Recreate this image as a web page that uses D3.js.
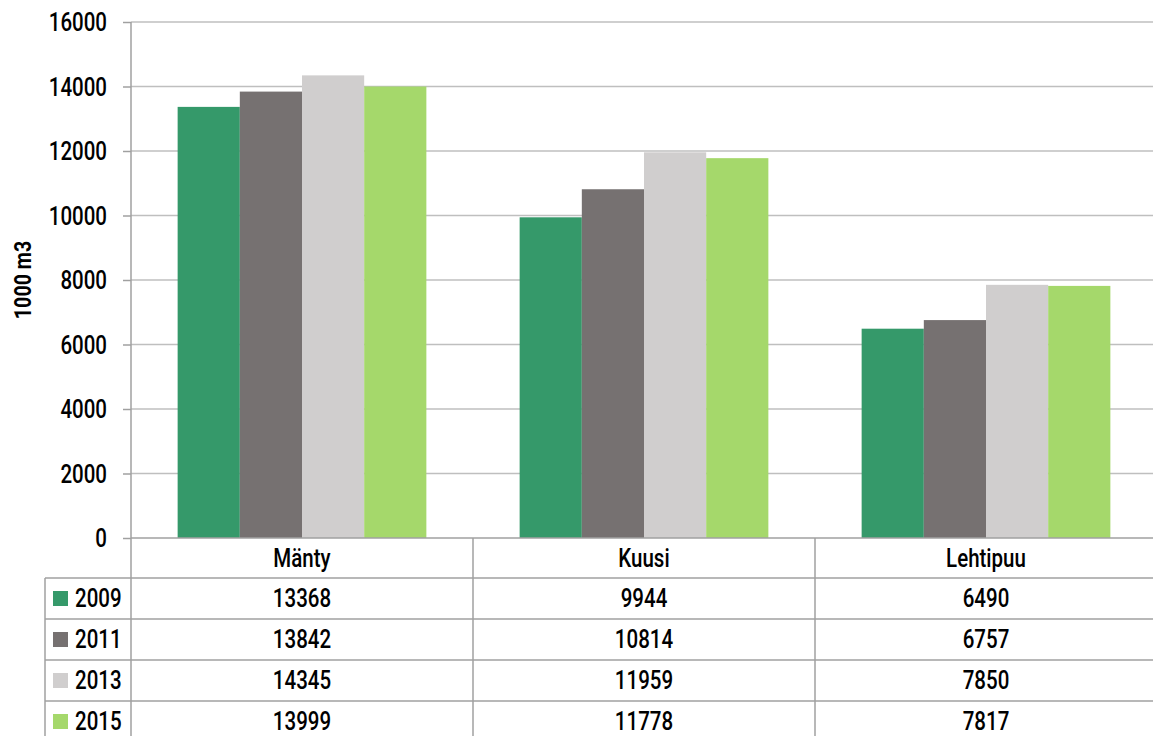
<!DOCTYPE html>
<html>
<head>
<meta charset="utf-8">
<script src="https://cdn.jsdelivr.net/npm/d3@7"></script>
<style>
body { margin: 0; background: #fff; }
svg text { font-family: "Roboto", sans-serif; fill: #000; }
</style>
</head>
<body>
<div id="chart"></div>
<script>
// data
var categories = ["Mänty", "Kuusi", "Lehtipuu"];
var years = ["2009", "2011", "2013", "2015"];
var v2009 = [13368, 9944, 6490];
var v2011 = [13842, 10814, 6757];
var v2013 = [14345, 11959, 7850];
var v2015 = [13999, 11778, 7817];
var yTicks = [0, 2000, 4000, 6000, 8000, 10000, 12000, 14000, 16000];
var colors = ["#35996a", "#767171", "#d0cece", "#a5d86b"];

var series = [v2009, v2011, v2013, v2015];

var w = 1153, h = 736;
var plotLeft = 131, plotRight = 1157, plotTop = 22, plotBottom = 538;
var rowH = 41, headH = 40, tableLeft = 45;
var fontSize = 25, fontW = 500, sx = 0.82; // narrow look like the original DIN font

// place a narrowed text at (x, y)
function place(sel, x, y) {
  sel.attr("transform", function(d, i){
    var px = typeof x === "function" ? x(d, i) : x;
    var py = typeof y === "function" ? y(d, i) : y;
    return "translate(" + px + "," + py + ") scale(" + sx + ",1)";
  });
}

var svg = d3.select("#chart").append("svg")
  .attr("width", w).attr("height", h);

var xScale = d3.scaleBand().domain(categories).range([plotLeft, plotRight]);
var xInner = d3.scaleBand().domain(years)
  .range([0, xScale.bandwidth()]).paddingOuter(0.75).paddingInner(0);
var yScale = d3.scaleLinear().domain([0, 16000]).range([plotBottom, plotTop]);

// gridlines
svg.append("g").selectAll("line")
  .data(yTicks.slice(1))
  .enter().append("line")
  .attr("x1", plotLeft).attr("x2", plotRight)
  .attr("y1", function(d){ return yScale(d); })
  .attr("y2", function(d){ return yScale(d); })
  .attr("stroke", "#bfbfbf").attr("stroke-width", 1.5);

// bars
var groups = svg.append("g").selectAll("g")
  .data(series).enter().append("g")
  .attr("fill", function(d, i){ return colors[i]; });

groups.selectAll("rect")
  .data(function(d, i){
    return d.map(function(v, j){ return { year: years[i], cat: categories[j], value: v }; });
  })
  .enter().append("rect")
  .attr("x", function(d){ return xScale(d.cat) + xInner(d.year); })
  .attr("width", xInner.bandwidth())
  .attr("y", function(d){ return yScale(d.value); })
  .attr("height", function(d){ return yScale(0) - yScale(d.value); });

// y axis
var yAxis = d3.axisLeft(yScale).tickValues(yTicks).tickFormat(d3.format("d"))
  .tickSize(8).tickPadding(0);
var ya = svg.append("g").attr("transform", "translate(" + plotLeft + ",0)").call(yAxis);
ya.select(".domain").remove();
ya.attr("font-family", null).attr("font-size", null);
ya.selectAll(".tick line").attr("stroke", "#a0a0a0").attr("stroke-width", 1.5);
ya.selectAll(".tick text").attr("font-size", fontSize).attr("font-weight", fontW)
  .attr("x", 0).attr("dy", "0.35em")
  .attr("transform", "translate(-24,0) scale(" + sx + ",1)");

svg.append("line")
  .attr("x1", plotLeft).attr("x2", plotLeft).attr("y1", plotTop).attr("y2", h)
  .attr("stroke", "#a0a0a0").attr("stroke-width", 1.5);

svg.append("text")
  .attr("transform", "translate(31," + ((plotTop + plotBottom) / 2) + ") rotate(-90) scale(" + sx + ",1)")
  .attr("text-anchor", "middle")
  .attr("font-size", 24).attr("font-weight", "bold")
  .text("1000 m3");

// data table
var tableG = svg.append("g");
var lineColor = "#a0a0a0";

tableG.append("line")
  .attr("x1", plotLeft).attr("x2", plotRight).attr("y1", plotBottom).attr("y2", plotBottom)
  .attr("stroke", lineColor).attr("stroke-width", 1.5);
tableG.selectAll("line.hrow")
  .data(d3.range(years.length + 1))
  .enter().append("line").attr("class", "hrow")
  .attr("x1", tableLeft).attr("x2", plotRight)
  .attr("y1", function(i){ return plotBottom + headH + i * rowH; })
  .attr("y2", function(i){ return plotBottom + headH + i * rowH; })
  .attr("stroke", lineColor).attr("stroke-width", 1.5);

tableG.selectAll("line.vcol")
  .data(categories.slice(1))
  .enter().append("line").attr("class", "vcol")
  .attr("x1", function(d){ return xScale(d); })
  .attr("x2", function(d){ return xScale(d); })
  .attr("y1", plotBottom).attr("y2", h)
  .attr("stroke", lineColor).attr("stroke-width", 1.5);
tableG.append("line")
  .attr("x1", tableLeft).attr("x2", tableLeft)
  .attr("y1", plotBottom + headH).attr("y2", h)
  .attr("stroke", lineColor).attr("stroke-width", 1.5);

// header labels
tableG.selectAll("text.head")
  .data(categories).enter().append("text").attr("class", "head")
  .attr("dy", "0.35em")
  .attr("text-anchor", "middle")
  .attr("font-size", fontSize).attr("font-weight", fontW)
  .text(function(d){ return d; })
  .call(place, function(d){ return xScale(d) + xScale.bandwidth() / 2; }, plotBottom + headH / 2);

// rows
var rows = tableG.selectAll("g.row")
  .data(series).enter().append("g").attr("class", "row")
  .attr("transform", function(d, i){ return "translate(0," + (plotBottom + headH + i * rowH) + ")"; });

rows.append("rect")
  .attr("x", 53).attr("y", rowH / 2 - 7.5)
  .attr("width", 15).attr("height", 15)
  .attr("fill", function(d, i){ return colors[i]; });

rows.append("text")
  .attr("dy", "0.35em")
  .attr("font-size", fontSize).attr("font-weight", fontW)
  .text(function(d, i){ return years[i]; })
  .call(place, 75, rowH / 2);

rows.selectAll("text.val")
  .data(function(d){ return d.map(function(v, j){ return { cat: categories[j], value: v }; }); })
  .enter().append("text").attr("class", "val")
  .attr("dy", "0.35em")
  .attr("text-anchor", "middle")
  .attr("font-size", fontSize).attr("font-weight", fontW)
  .text(function(d){ return d.value; })
  .call(place, function(d){ return xScale(d.cat) + xScale.bandwidth() / 2; }, rowH / 2);
</script>
</body>
</html>
